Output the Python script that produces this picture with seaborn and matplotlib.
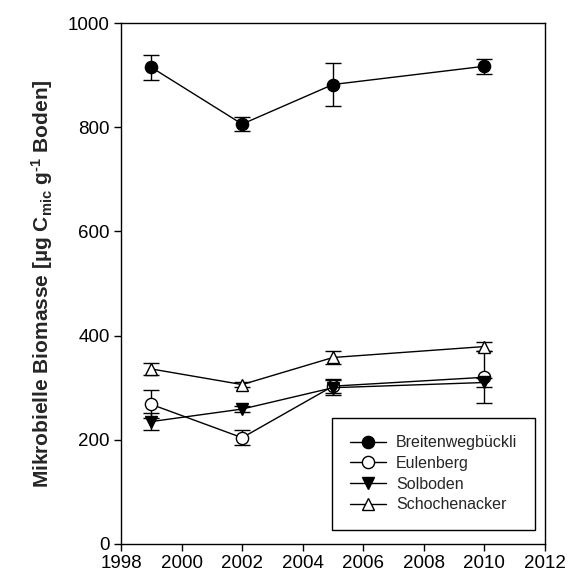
import matplotlib
matplotlib.use("Agg")
import matplotlib.pyplot as plt
import seaborn as sns
import pandas as pd
from matplotlib.lines import Line2D

years = [1999, 2002, 2005, 2010]
sites = ["Breitenwegbückli", "Eulenberg", "Solboden", "Schochenacker"]
breiten_mean = [915, 806, 882, 917]
breiten_err = [24, 13, 41, 14]
eulen_mean = [268, 204, 303, 320]
eulen_err = [27, 14, 14, 50]
solb_mean = [235, 259, 300, 310]
solb_err = [17, 6, 14, 8]
schoch_mean = [336, 306, 358, 379]
schoch_err = [11, 5, 13, 9]
x_ticks = [1998, 2000, 2002, 2004, 2006, 2008, 2010, 2012]
y_ticks = [0, 200, 400, 600, 800, 1000]

sns.set_theme(style="ticks")
plt.rcParams["font.family"] = ["Liberation Sans", "DejaVu Sans"]
plt.rcParams["mathtext.default"] = "regular"

means = [breiten_mean, eulen_mean, solb_mean, schoch_mean]
errs = [breiten_err, eulen_err, solb_err, schoch_err]
markers = ["o", "o", "v", "^"]
faces = ["black", "white", "black", "white"]

df = pd.DataFrame({
    "Jahr": years * 4,
    "Wert": sum(means, []),
    "Fehler": sum(errs, []),
    "Standort": [s for s in sites for _ in years],
})

fig = plt.figure(figsize=(5.68, 5.83), dpi=100)
ax = fig.add_axes([0.213, 0.0669, 0.7465, 0.8936])

handles = []
for site, mk, fc in zip(sites, markers, faces):
    sub = df[df["Standort"] == site]
    ax.errorbar(sub["Jahr"], sub["Wert"], yerr=sub["Fehler"], fmt="none",
                ecolor="black", elinewidth=1.0, capsize=6, capthick=1.0, zorder=2)
    sns.lineplot(data=sub, x="Jahr", y="Wert", ax=ax, color="black",
                 linewidth=1.0, marker=mk, markersize=8.8,
                 markerfacecolor=fc, markeredgecolor="black",
                 markeredgewidth=1.0, zorder=3)
    handles.append(Line2D([], [], color="black", linewidth=1.0, marker=mk,
                          markersize=8.8, markerfacecolor=fc,
                          markeredgecolor="black", markeredgewidth=1.0))

ax.set_xlim(1998, 2012)
ax.set_ylim(0, 1000)
ax.set_xticks(x_ticks)
ax.set_yticks(y_ticks)
ax.tick_params(direction="out", length=5, width=1, labelsize=13.5, colors="black",
               pad=3)
for sp in ax.spines.values():
    sp.set_visible(True)
    sp.set_linewidth(1.0)
    sp.set_color("black")
ax.set_xlabel("")
ax.set_ylabel("Mikrobielle Biomasse [µg C$_{mic}$ g$^{‐1}$ Boden]",
              fontsize=15, fontweight="bold", labelpad=9)

leg = ax.legend(handles, sites, loc="lower right", bbox_to_anchor=(0.995, 0.012),
                fontsize=11.5, frameon=True, fancybox=False, framealpha=1,
                edgecolor="black", handlelength=2.3, handletextpad=0.6,
                labelspacing=0.35, borderpad=1.1, numpoints=1)
leg.get_frame().set_linewidth(1.0)

fig.savefig("out.png", dpi=100)
